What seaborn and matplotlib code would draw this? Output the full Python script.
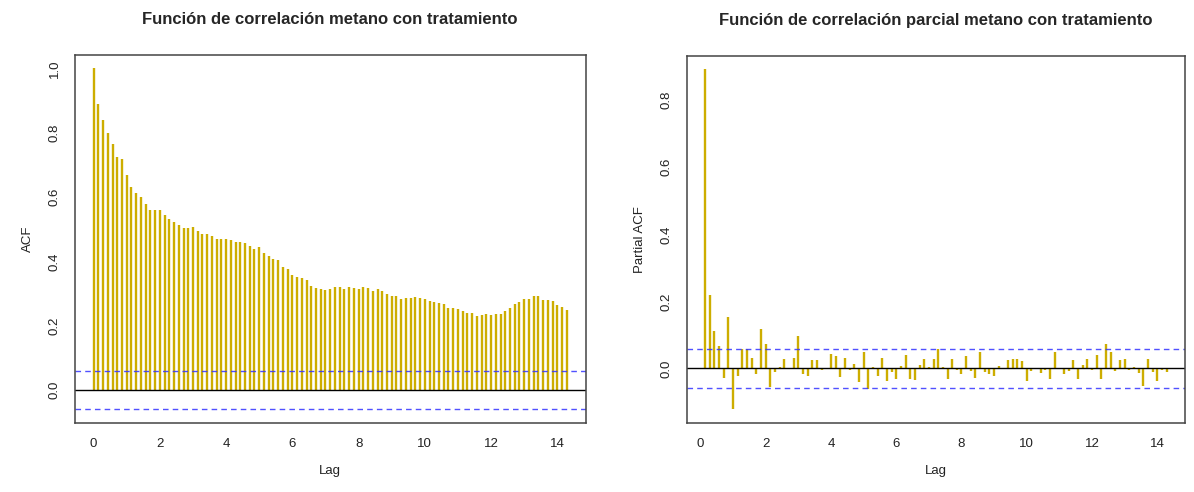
import numpy as np
import pandas as pd
import matplotlib
matplotlib.use("Agg")
import matplotlib.pyplot as plt
import seaborn as sns

# ---------------- data ----------------
frequency = 7          # series frequency: lag = k / 7
acf_values = [
    1.000, 0.889, 0.839, 0.799, 0.766, 0.724, 0.717, 0.668, 0.631, 0.611,
    0.599, 0.577, 0.561, 0.561, 0.561, 0.543, 0.532, 0.521, 0.512, 0.503,
    0.503, 0.506, 0.495, 0.485, 0.485, 0.480, 0.471, 0.471, 0.471, 0.468,
    0.461, 0.461, 0.456, 0.448, 0.440, 0.444, 0.427, 0.417, 0.406, 0.403,
    0.381, 0.376, 0.359, 0.352, 0.347, 0.341, 0.325, 0.318, 0.315, 0.312,
    0.315, 0.321, 0.321, 0.315, 0.320, 0.318, 0.315, 0.321, 0.318, 0.307,
    0.313, 0.307, 0.298, 0.291, 0.291, 0.283, 0.286, 0.286, 0.288, 0.286,
    0.283, 0.278, 0.275, 0.270, 0.267, 0.256, 0.256, 0.251, 0.246, 0.241,
    0.241, 0.229, 0.232, 0.238, 0.232, 0.238, 0.238, 0.246, 0.256, 0.267,
    0.273, 0.283, 0.283, 0.291, 0.291, 0.280, 0.280, 0.278, 0.264, 0.259,
    0.248,
]
pacf_values = [
    0.893, 0.218, 0.113, 0.067, -0.029, 0.153, -0.122, -0.024, 0.058, 0.058,
    0.031, -0.016, 0.117, 0.073, -0.055, -0.011, 0.003, 0.029, 0.002, 0.031,
    0.096, -0.016, -0.024, 0.025, 0.025, -0.006, -0.001, 0.043, 0.037, -0.027,
    0.031, -0.006, 0.014, -0.042, 0.048, -0.060, 0.003, -0.024, 0.031, -0.037,
    -0.011, -0.031, 0.006, 0.040, -0.031, -0.034, 0.011, 0.027, 0.003, 0.029,
    0.059, 0.003, -0.031, 0.027, -0.006, -0.016, 0.037, -0.009, -0.029, 0.048,
    -0.011, -0.016, -0.024, 0.006, 0.001, 0.024, 0.027, 0.027, 0.021, -0.037,
    -0.009, 0.001, -0.013, -0.004, -0.031, 0.048, -0.003, -0.016, -0.009, 0.025,
    -0.031, 0.009, 0.029, -0.004, 0.040, -0.031, 0.073, 0.048, -0.009, 0.025,
    0.027, -0.004, 0.004, -0.014, -0.052, 0.027, -0.011, -0.039, -0.004, -0.011,
]
conf_limit = 0.059
x_ticks = [0, 2, 4, 6, 8, 10, 12, 14]
acf_yticks = [0.0, 0.2, 0.4, 0.6, 0.8, 1.0]
pacf_yticks = [0.0, 0.2, 0.4, 0.6, 0.8]
titles = ["Función de correlación metano con tratamiento",
          "Función de correlación parcial metano con tratamiento"]
ylabels = ["ACF", "Partial ACF"]
xlabel = "Lag"

acf_df = pd.DataFrame({"lag": np.arange(len(acf_values)) / frequency,
                       "value": acf_values})
pacf_df = pd.DataFrame({"lag": np.arange(1, len(pacf_values) + 1) / frequency,
                        "value": pacf_values})

# ---------------- style ----------------
sns.set_style("white")
plt.rcParams["font.family"] = ["Liberation Sans", "DejaVu Sans"]

BAR = "#CDAD00"
CI = "#3333FF"
BOX = "#444444"

W, H = 1194, 492
fig = plt.figure(figsize=(W / 100, H / 100), dpi=100)

boxes = [(74.7, 54.7, 585.7, 422.7), (686.7, 55.5, 1185.0, 422.9)]


def rng_ext(lo, hi, f=0.04):
    d = (hi - lo) * f
    return lo - d, hi + d


for i, (df, yt) in enumerate([(acf_df, acf_yticks), (pacf_df, pacf_yticks)]):
    x0, y0, x1, y1 = boxes[i]
    ax = fig.add_axes([x0 / W, 1 - y1 / H, (x1 - x0) / W, (y1 - y0) / H])
    ax.vlines(df["lag"], 0, df["value"], color=BAR, linewidth=1.7)
    ax.axhline(0, color="black", linewidth=1.0)
    for s in (1, -1):
        ax.axhline(s * conf_limit, color=CI, linewidth=1.0,
                   linestyle=(0, (4, 3)), alpha=0.85)
    ax.set_xlim(*rng_ext(df["lag"].min(), df["lag"].max()))
    vmin = min(df["value"].min(), -conf_limit)
    vmax = max(df["value"].max(), conf_limit)
    ax.set_ylim(*rng_ext(vmin, vmax))
    ax.set_xticks(x_ticks)
    ax.set_yticks(yt)
    ax.set_yticklabels([f"{v:.1f}" for v in yt], rotation=90, va="center")
    ax.tick_params(axis="both", direction="out", length=7, width=1,
                   color=BOX, labelsize=9.5, pad=4, labelcolor="#222222")
    ax.tick_params(axis="y", pad=3)
    for sp in ax.spines.values():
        sp.set_color(BOX)
        sp.set_linewidth(1.1)
        sp.set_visible(True)
    ax.set_xlabel(xlabel, fontsize=9.5, labelpad=11, color="#222222")
    ax.set_ylabel(ylabels[i], fontsize=9.5, labelpad=11, color="#222222")
    ax.set_title(titles[i], fontsize=12, fontweight="bold", pad=22)

fig.savefig("out.png", dpi=100)
